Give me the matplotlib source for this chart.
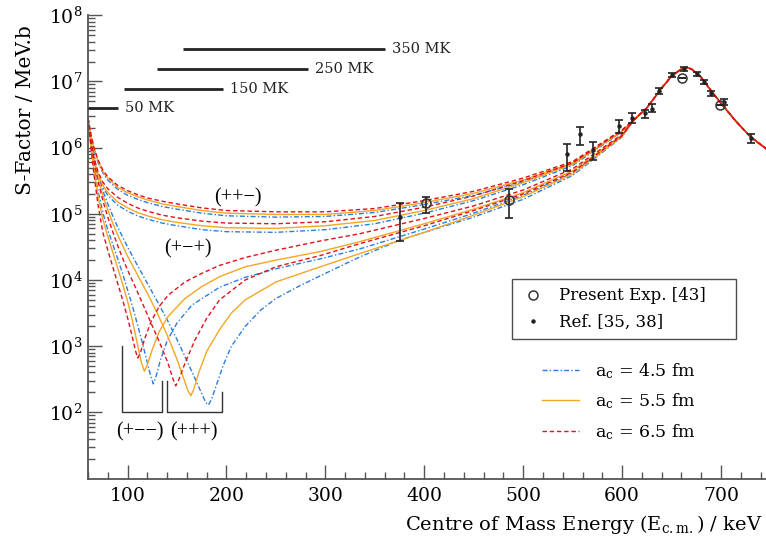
import numpy as np
import matplotlib
matplotlib.use("Agg")
import matplotlib.pyplot as plt
from matplotlib.lines import Line2D
from matplotlib.ticker import LogLocator, MultipleLocator, NullFormatter, FixedLocator, LogFormatterSciNotation

plt.rcParams['font.family'] = ['DejaVu Serif']
plt.rcParams['mathtext.fontset'] = 'dejavuserif'

# ---------------- data (log10 of S-factor in MeV b) ----------------
# shared resonance region (all curves coincide)
E_res = [612, 625, 640, 650, 660, 665, 670, 680, 690, 700, 715, 730, 746]
L_res = [6.42, 6.60, 6.90, 7.08, 7.19, 7.21, 7.19, 7.06, 6.86, 6.67, 6.40, 6.16, 5.98]

# (++-) family
E_ppm = [60, 63, 66, 70, 75, 80, 90, 100, 110, 120, 135, 150, 175, 200, 250, 300, 350, 400, 450, 500, 550, 600]
L_ppm_45 = [6.45, 6.18, 5.97, 5.78, 5.62, 5.51, 5.37, 5.28, 5.22, 5.17, 5.11, 5.07, 5.01, 4.97, 4.95, 4.96, 5.02, 5.14, 5.28, 5.48, 5.75, 6.24]
L_ppm_55 = [6.45, 6.19, 5.99, 5.80, 5.64, 5.54, 5.40, 5.32, 5.26, 5.21, 5.15, 5.11, 5.05, 5.01, 4.99, 4.99, 5.05, 5.17, 5.31, 5.51, 5.77, 6.25]
L_ppm_65 = [6.45, 6.20, 6.00, 5.82, 5.66, 5.56, 5.43, 5.35, 5.29, 5.24, 5.19, 5.15, 5.09, 5.05, 5.03, 5.03, 5.08, 5.20, 5.34, 5.54, 5.79, 6.27]

# (+-+) family
E_pmp = E_ppm
L_pmp_45 = [6.45, 6.06, 5.80, 5.57, 5.40, 5.28, 5.13, 5.04, 4.97, 4.92, 4.86, 4.82, 4.76, 4.73, 4.72, 4.76, 4.85, 5.01, 5.20, 5.44, 5.73, 6.24]
L_pmp_55 = [6.45, 6.08, 5.82, 5.60, 5.43, 5.32, 5.18, 5.09, 5.02, 4.97, 4.91, 4.87, 4.82, 4.79, 4.78, 4.82, 4.90, 5.05, 5.23, 5.47, 5.75, 6.25]
L_pmp_65 = [6.45, 6.10, 5.85, 5.64, 5.48, 5.38, 5.25, 5.16, 5.09, 5.04, 4.98, 4.94, 4.89, 4.86, 4.85, 4.88, 4.96, 5.10, 5.27, 5.50, 5.77, 6.26]

# (+--) family
E_pmm_65 = [60, 63, 66, 70, 75, 80, 85, 90, 95, 100, 105, 108, 110.3, 113, 117, 124, 132, 141, 158, 175, 193, 219, 250, 295, 335, 400, 450, 500, 550, 600]
L_pmm_65 = [6.45, 6.00, 5.60, 5.15, 4.72, 4.45, 4.20, 3.95, 3.70, 3.43, 3.13, 2.93, 2.82, 2.90, 3.10, 3.38, 3.60, 3.77, 3.97, 4.10, 4.22, 4.34, 4.45, 4.59, 4.70, 4.93, 5.12, 5.36, 5.68, 6.20]
E_pmm_55 = [60, 63, 66, 70, 75, 80, 85, 90, 95, 100, 105, 110, 114, 117, 120, 125, 132, 141, 158, 175, 193, 219, 250, 295, 335, 400, 450, 500, 550, 600]
L_pmm_55 = [6.45, 6.03, 5.68, 5.28, 4.92, 4.66, 4.42, 4.18, 3.94, 3.68, 3.38, 3.03, 2.75, 2.62, 2.72, 2.95, 3.22, 3.45, 3.72, 3.90, 4.05, 4.20, 4.30, 4.43, 4.58, 4.85, 5.07, 5.32, 5.65, 6.19]
E_pmm_45 = [60, 63, 66, 70, 75, 80, 85, 90, 95, 100, 105, 110, 115, 120, 123, 126, 129, 133, 140, 150, 165, 193, 219, 250, 295, 335, 400, 450, 500, 550, 600]
L_pmm_45 = [6.45, 6.05, 5.72, 5.36, 5.02, 4.76, 4.54, 4.32, 4.10, 3.85, 3.60, 3.33, 3.05, 2.75, 2.57, 2.43, 2.55, 2.78, 3.08, 3.35, 3.62, 3.89, 4.04, 4.17, 4.32, 4.47, 4.77, 5.01, 5.28, 5.62, 6.18]

# (+++) family
E_ppp_65 = [60, 63, 66, 70, 75, 80, 85, 90, 95, 100, 107, 115, 124, 132, 141, 146, 148.7, 152, 158, 168, 180, 193, 219, 250, 295, 335, 400, 450, 500, 550, 600]
L_ppp_65 = [6.45, 6.08, 5.80, 5.50, 5.20, 4.95, 4.73, 4.52, 4.33, 4.15, 3.92, 3.65, 3.34, 3.07, 2.74, 2.50, 2.40, 2.50, 2.74, 3.09, 3.42, 3.70, 4.00, 4.20, 4.37, 4.55, 4.82, 5.05, 5.30, 5.63, 6.18]
E_ppp_55 = [60, 63, 66, 70, 75, 80, 85, 90, 95, 100, 110, 120, 130, 140, 150, 157, 161, 164, 167, 172, 180, 193, 205, 219, 250, 295, 335, 400, 450, 500, 550, 600]
L_ppp_55 = [6.45, 6.08, 5.82, 5.55, 5.28, 5.06, 4.86, 4.68, 4.52, 4.36, 4.08, 3.80, 3.50, 3.17, 2.80, 2.50, 2.33, 2.25, 2.35, 2.60, 2.92, 3.25, 3.50, 3.70, 3.97, 4.20, 4.40, 4.72, 4.98, 5.26, 5.60, 6.17]
E_ppp_45 = [60, 63, 66, 70, 75, 80, 85, 90, 100, 110, 120, 130, 140, 150, 160, 170, 176, 179, 181.7, 185, 190, 197, 205, 219, 235, 250, 275, 300, 335, 375, 400, 450, 500, 550, 600]
L_ppp_45 = [6.45, 6.10, 5.85, 5.60, 5.35, 5.15, 4.97, 4.80, 4.50, 4.22, 3.95, 3.68, 3.40, 3.10, 2.78, 2.45, 2.25, 2.15, 2.11, 2.20, 2.42, 2.72, 3.00, 3.30, 3.55, 3.72, 3.92, 4.10, 4.35, 4.60, 4.72, 4.95, 5.22, 5.58, 6.16]

# Reference data points
E_ref = [375.5, 544, 557, 571, 597, 610, 623, 630, 637, 650, 663, 675.5, 683, 690, 703, 730]
S_ref = [9.0e4, 7.9e5, 1.58e6, 9.2e5, 2.1e6, 2.76e6, 3.3e6, 3.9e6, 7.2e6, 1.26e7, 1.55e7, 1.3e7, 9.8e6, 6.6e6, 4.9e6, 1.38e6]
S_ref_lo = [3.9e4, 4.5e5, 1.1e6, 6.5e5, 1.66e6, 2.33e6, 2.8e6, 3.5e6, 6.4e6, 1.17e7, 1.45e7, 1.2e7, 9.0e6, 6.0e6, 4.4e6, 1.18e6]
S_ref_hi = [1.48e5, 1.13e6, 2.07e6, 1.23e6, 2.6e6, 3.3e6, 3.7e6, 4.6e6, 8.1e6, 1.36e7, 1.66e7, 1.4e7, 1.07e7, 7.2e6, 5.4e6, 1.6e6]

# Present experiment
E_exp = [402, 486, 661, 699.4]
S_exp = [1.44e5, 1.62e5, 1.12e7, 4.36e6]
S_exp_lo = [1.02e5, 8.5e4, 1.12e7, 4.36e6]
S_exp_hi = [1.8e5, 2.35e5, 1.12e7, 4.36e6]

# Gamow windows
T_labels = ["50 MK", "150 MK", "250 MK", "350 MK"]
T_lo = [60, 96.5, 129.5, 155.8]
T_hi = [90.7, 196.2, 282.8, 360.3]
T_S = [3.93e6, 7.7e6, 1.55e7, 3.1e7]

radius_labels = ["4.5 fm", "5.5 fm", "6.5 fm"]
y_major = [1e2, 1e3, 1e4, 1e5, 1e6, 1e7, 1e8]

# ---------------- styling ----------------
c_blue = '#2b7de0'
c_orange = '#f5a623'
c_red = '#e0121c'
ls_blue = (0, (3.6, 1.6, 1.0, 1.6))
ls_red = (0, (3.2, 2.0))
lw = 1.0

fig = plt.figure(figsize=(7.66, 5.41), dpi=100)
W, H = 766, 541
ax = fig.add_axes([88 / W, 1 - 478.5 / H, (W - 88) / W, (478.5 - 15.3) / H])
ax.set_yscale('log')
ax.set_xlim(60, 745.5)
ax.set_ylim(10, 1e8)


def full(E, L):
    E = list(E) + E_res
    L = list(L) + L_res
    return np.array(E), 10 ** np.array(L)

styles = {45: (c_blue, ls_blue), 55: (c_orange, '-'), 65: (c_red, ls_red)}
curves = [
    (E_ppm, L_ppm_45, 45), (E_ppm, L_ppm_55, 55), (E_ppm, L_ppm_65, 65),
    (E_pmp, L_pmp_45, 45), (E_pmp, L_pmp_55, 55), (E_pmp, L_pmp_65, 65),
    (E_pmm_45, L_pmm_45, 45), (E_pmm_55, L_pmm_55, 55), (E_pmm_65, L_pmm_65, 65),
    (E_ppp_45, L_ppp_45, 45), (E_ppp_55, L_ppp_55, 55), (E_ppp_65, L_ppp_65, 65),
]
for order in (45, 55, 65):
    for E, L, r in curves:
        if r != order:
            continue
        x, y = full(E, L)
        col, ls = styles[r]
        ax.plot(x, y, color=col, linestyle=ls, lw=lw, zorder=2)

# data points
yerr_ref = [np.array(S_ref) - np.array(S_ref_lo), np.array(S_ref_hi) - np.array(S_ref)]
ax.errorbar(E_ref, S_ref, yerr=yerr_ref, fmt='o', ms=2.2, color='#222222',
            ecolor='#222222', elinewidth=1.2, capsize=3, capthick=1.2, zorder=4)
yerr_exp = [np.array(S_exp) - np.array(S_exp_lo), np.array(S_exp_hi) - np.array(S_exp)]
ax.errorbar(E_exp, S_exp, yerr=yerr_exp, fmt='none', ecolor='#222222',
            elinewidth=1.2, capsize=3, capthick=1.2, zorder=4)
ax.plot(E_exp, S_exp, 'o', ms=6.5, mfc='none', mec='#333333', mew=1.1, zorder=5)

# Gamow windows
for lab, a, b, s in zip(T_labels, T_lo, T_hi, T_S):
    ax.plot([a, b], [s, s], color='#222222', lw=2.0, solid_capstyle='butt', zorder=3)
    ax.text(b + 7, s, lab, fontsize=10.5, va='center', ha='left', color='#222222')

# brackets and family labels
ax.plot([94.7, 94.7, 135.2, 135.2], [1e3, 1e2, 1e2, 3e2], color='#333333', lw=1.0)
ax.plot([139.6, 139.6, 195.2, 195.2], [3e2, 1e2, 1e2, 2e2], color='#333333', lw=1.0)
lab_font = dict(family=['Liberation Serif', 'DejaVu Serif'], fontsize=14.5,
                ha='center', va='center')
ax.text(112.6, 5.0e1, '(+−−)', **lab_font)
ax.text(167.5, 5.0e1, '(+++)', **lab_font)
ax.text(212, 1.74e5, '(++−)', **lab_font)
ax.text(161, 3.0e4, '(+−+)', **lab_font)

# axes style
for sp in ('top', 'right'):
    ax.spines[sp].set_visible(False)
for sp in ('left', 'bottom'):
    ax.spines[sp].set_color('#555555')
    ax.spines[sp].set_linewidth(1.3)
ax.xaxis.set_major_locator(MultipleLocator(100))
ax.xaxis.set_minor_locator(MultipleLocator(20))
ax.yaxis.set_major_locator(FixedLocator(y_major))
ax.yaxis.set_major_formatter(LogFormatterSciNotation())
ax.yaxis.set_minor_locator(LogLocator(base=10, subs=np.arange(2, 10), numticks=50))
ax.yaxis.set_minor_formatter(NullFormatter())
ax.tick_params(which='both', direction='in', color='#555555', width=1.0,
               labelsize=13.5, top=False, right=False)
ax.tick_params(which='major', length=10)
ax.tick_params(which='minor', length=5)
ax.tick_params(axis='x', pad=6)
ax.tick_params(axis='y', pad=4)

fig.text(16 / W, 1 - 25 / H, 'S-Factor / MeV.b', rotation=90, fontsize=14.5,
         ha='left', va='top')
fig.text(762 / W, 1 - 524 / H, r'Centre of Mass Energy (E$_\mathregular{c.m.}$) / keV',
         fontsize=14, ha='right', va='center')

# legends
h1 = Line2D([], [], ls='none', marker='o', ms=6.5, mfc='none', mec='#333333', mew=1.1)
h2 = Line2D([], [], ls='none', marker='o', ms=2.2, color='#222222')
leg1 = fig.legend([h1, h2], ['Present Exp. [43]', 'Ref. [35, 38]'],
                  loc='upper left', mode='expand',
                  bbox_to_anchor=(512 / W, 1 - 338 / H, 224 / W, 59 / H),
                  frameon=True, fancybox=False, edgecolor='#222222', fontsize=12,
                  handlelength=1.5, handletextpad=0.8, borderpad=0.5,
                  labelspacing=0.55, borderaxespad=0)
leg1.get_frame().set_linewidth(1.0)
hl = [Line2D([], [], color=c_blue, ls=ls_blue, lw=lw),
      Line2D([], [], color=c_orange, ls='-', lw=lw),
      Line2D([], [], color=c_red, ls=ls_red, lw=lw)]
leg2 = fig.legend(hl, [r'a$_\mathregular{c}$ = ' + t for t in radius_labels],
                  loc='upper left', bbox_to_anchor=(535 / W, 1 - 354 / H),
                  frameon=False, fontsize=12.5, handlelength=2.15, handletextpad=0.9,
                  labelspacing=0.62, borderaxespad=0)

fig.savefig('out.png', dpi=100)
